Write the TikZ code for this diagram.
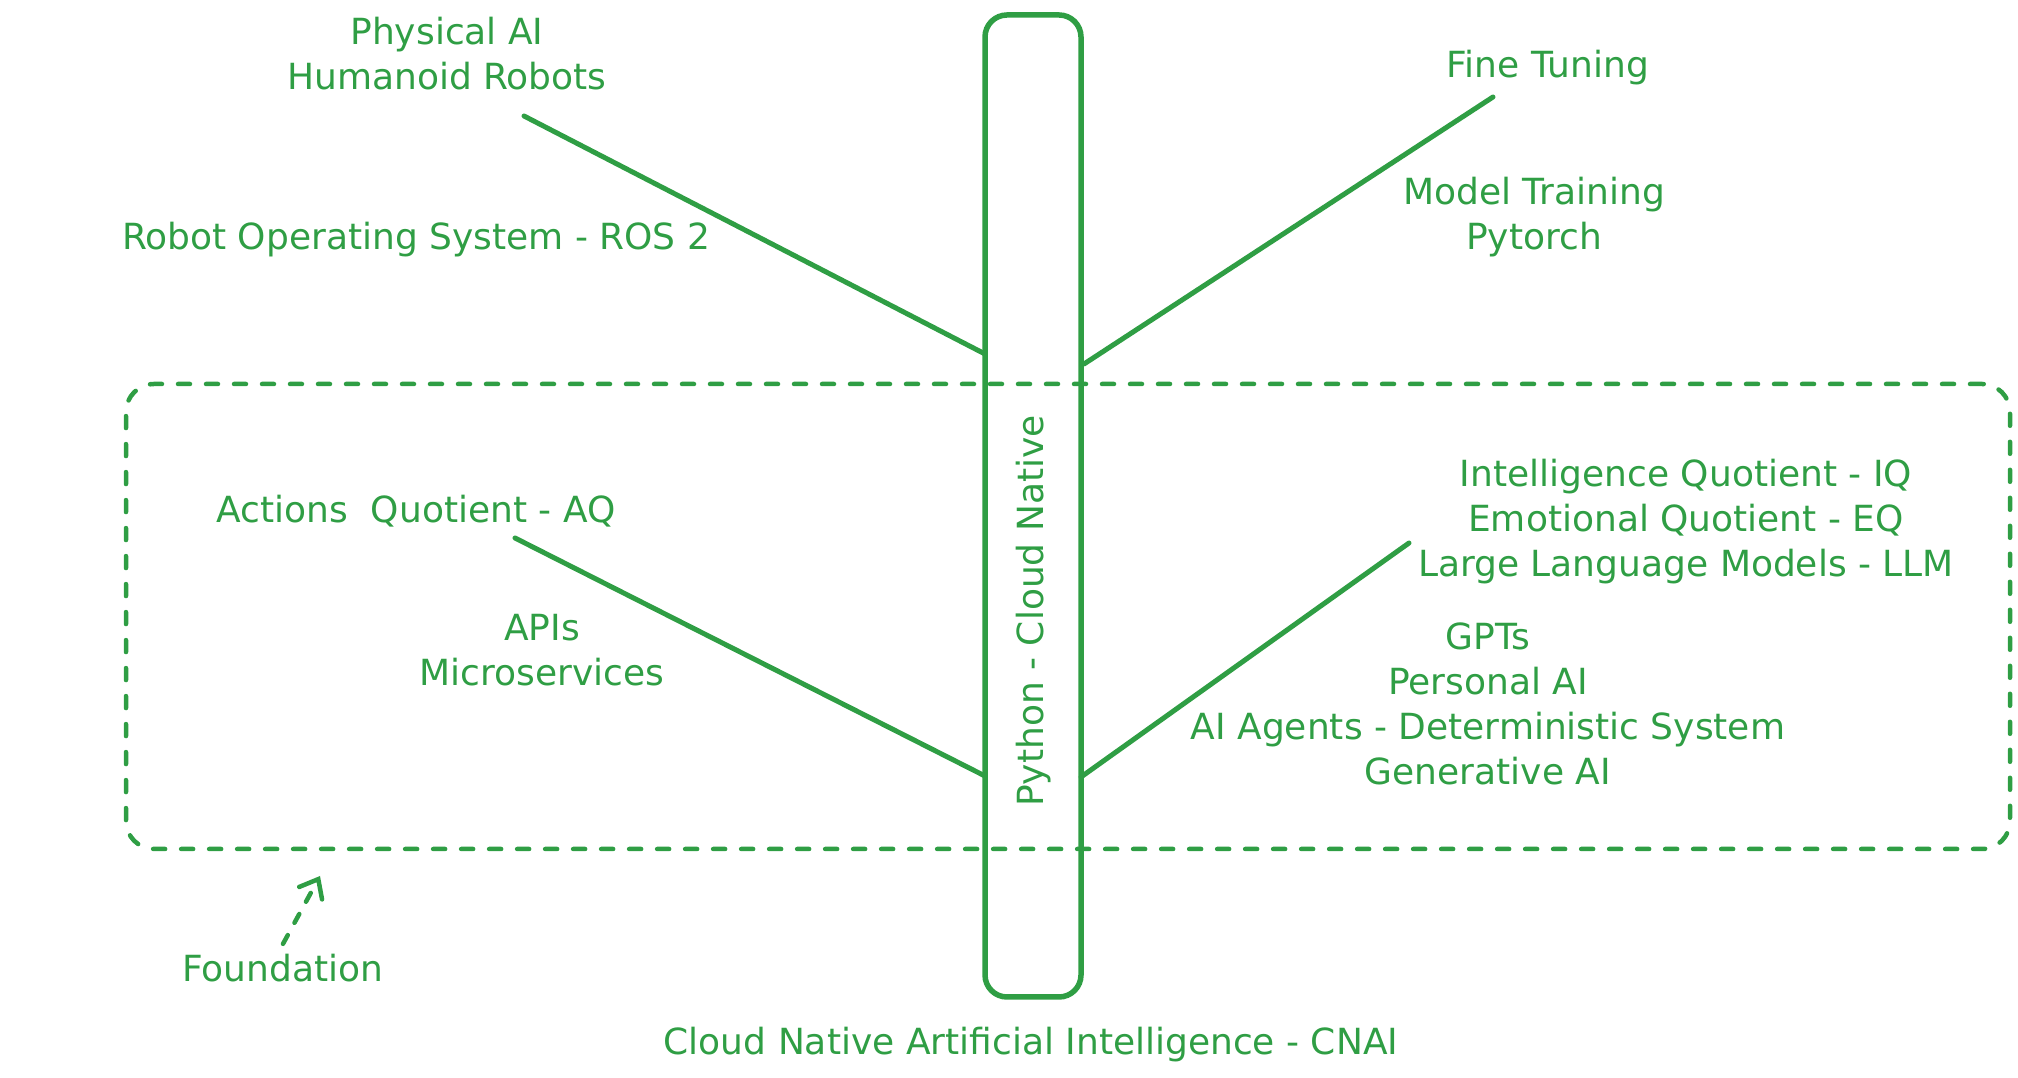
\documentclass[tikz,border=0pt]{standalone}
\usepackage{fontspec}
\setmainfont{DejaVu Sans}
\usetikzlibrary{shapes,arrows,arrows.meta}
\usetikzlibrary{calc}
\definecolor{mygreen}{RGB}{47, 158, 68}

\begin{document}
\begin{tikzpicture}[x=1pt,y=1pt]

\tikzstyle{green-t} = [text=mygreen, inner sep=0, font=\fontsize{36}{45}\selectfont]
\tikzstyle{trunk-b} = [draw=mygreen, line width=5.5, rounded corners=22, 
minimum width=96, minimum height=982, inner sep=0]
\tikzstyle{dash-b} = [draw=mygreen, line width=4.5, rounded corners=28, 
dash pattern=on 12pt off 16pt, line cap=round, minimum width=1884, minimum height=465]
\tikzstyle{branch} = [draw=mygreen, line width=5, line cap=round]

\useasboundingbox (0,0) rectangle (2018,1078);

\node [trunk-b] (trunk) at (1033,572) {};
\node [dash-b] (foundbox) at (1068,461.5) {};

\node [green-t, rotate=90] (python) at (1034,467) {Python - Cloud Native};



\node [green-t] (physical) at (447,1020) {\begin{tabular}{c} Physical AI\\ Humanoid Robots\end{tabular}};
\node [green-t] (ros) at (416,838) {Robot Operating System - ROS 2};

\node [green-t] (finetune) at (1548,1010) {Fine Tuning};
\node [green-t] (training) at (1534,860) {\begin{tabular}{c} Model Training\\ Pytorch\end{tabular}};

\node [green-t] (actions) at (416,567) {Actions\ \ Quotient - AQ};
\node [green-t] (apis) at (542,424) {\begin{tabular}{c} APIs\\ Microservices\end{tabular}};

\node [green-t] (quotients) at (1686,555) {\begin{tabular}{c} Intelligence Quotient - IQ\\ Emotional Quotient - EQ\\ Large Language Models - LLM\end{tabular}};
\node [green-t] (agents) at (1488,370) {\begin{tabular}{c} GPTs\\ Personal AI\\ AI Agents - Deterministic System\\ Generative AI\end{tabular}};

\node [green-t] (foundation) at (283,110) {Foundation};
\node [green-t] (cnai) at (1031,33) {Cloud Native Artificial Intelligence - CNAI};



\coordinate (tl-a) at (524,962);
\coordinate (tl-b) at (985,724);
\coordinate (tr-a) at (1493,981);
\coordinate (tr-b) at (1084,714);
\coordinate (bl-a) at (515,540);
\coordinate (bl-b) at (985,302);
\coordinate (br-a) at (1409,535);
\coordinate (br-b) at (1081,301);
\coordinate (found-tip) at (320,202);

\draw [branch] (tl-a) -- (tl-b);
\draw [branch] (tr-a) -- (tr-b);
\draw [branch] (bl-a) -- (bl-b);
\draw [branch] (br-a) -- (br-b);

\draw [branch, line width=4.5, dash pattern=on 10pt off 14pt, 
-{Straight Barb[length=16pt,width=26pt,line cap=round]}] ($(foundation.north)+(0,10)$) -- (found-tip);

\end{tikzpicture}
\end{document}
